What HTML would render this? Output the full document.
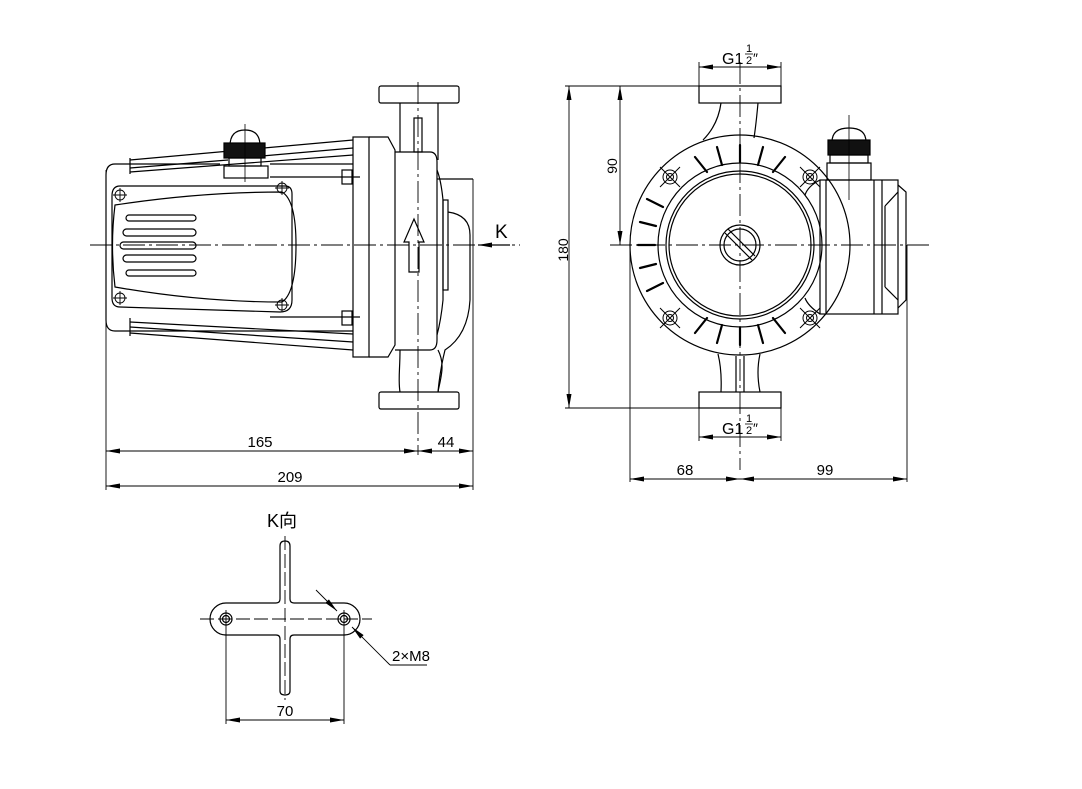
<!DOCTYPE html>
<html><head><meta charset="utf-8"><style>
html,body{margin:0;padding:0;background:#fff;}
svg{display:block;}
text{font-family:"Liberation Sans","Noto Sans CJK SC",sans-serif;fill:#000;}
</style></head><body>
<svg width="1082" height="789" viewBox="0 0 1082 789" xmlns="http://www.w3.org/2000/svg">
<defs>
<marker id="a" viewBox="0 0 14 5" refX="14" refY="2.5" markerWidth="14" markerHeight="5" orient="auto-start-reverse" markerUnits="userSpaceOnUse"><path d="M0,0 L14,2.5 L0,5 z" fill="#000"/></marker>
</defs>
<g fill="none" stroke="#000" stroke-width="1.2">
<!-- ===== LEFT VIEW ===== -->
<line x1="90" y1="245" x2="520" y2="245" stroke-dasharray="22,4,3,4" stroke-width="0.9"/>
<line x1="418" y1="82" x2="418" y2="455" stroke-dasharray="22,4,3,4" stroke-width="0.9"/>
<rect x="379" y="86" width="80" height="17" rx="2"/>
<rect x="379" y="392" width="80" height="17" rx="2"/>
<line x1="400" y1="103" x2="400" y2="152"/><line x1="438" y1="103" x2="438" y2="160"/>
<rect x="414" y="118" width="8" height="34"/>
<path d="M400,350 C400,370 398,380 400,392 M438,350 C446,365 440,380 438,392"/>
<rect x="353" y="137" width="16" height="220"/>
<path d="M369,137 H388 L395,150 V345 L388,357 H369"/>
<path d="M395,152 H430 Q437,152 437,162 V340 Q437,350 430,350 H395"/>
<path d="M437,170 Q441,180 443,200 V300 Q441,320 437,335"/>
<rect x="443" y="200" width="5" height="90"/>
<line x1="437" y1="179" x2="473" y2="179"/>
<line x1="473" y1="179" x2="473" y2="490" stroke-width="0.9"/>
<path d="M448,212 Q470,215 470,235 V300 Q468,335 445,350 Q440,370 438,392"/>
<path d="M409,272 V242 H404 L414,219 L424,242 H419 V272 Z"/>
<path d="M115,164 H220 M270,164 H353 M353,331 H115 Q106,331 106,320 V175 Q106,164 115,164" />
<line x1="106" y1="170" x2="106" y2="490" stroke-width="0.9"/>
<path d="M130,160 L353,140 M130,168 L228,160 M262,156 L353,148 M130,172 L353,155 M130,322 L353,334 M130,327 L353,342 M130,333 L353,350"/>
<path d="M130,158 V174 M130,318 V336"/>
<path d="M230,146 Q230,130 245,130 Q260,130 260,146"/>
<rect x="224" y="143" width="41" height="15" fill="#111"/>
<rect x="229" y="158" width="32" height="8"/>
<rect x="224" y="166" width="44" height="12"/>
<line x1="245" y1="124" x2="245" y2="182" stroke-width="0.8"/>
<path d="M120,186 H285 Q292,186 292,194 V300 Q292,312 280,312 L120,307 Q112,307 112,298 V196 Q112,186 120,186 Z"/>
<path d="M115,205 Q200,192 282,192 Q296,200 296,245 Q296,293 282,302 Q200,302 115,287 Q110,245 115,205 Z"/>
<rect x="126" y="215" width="70" height="6" rx="3"/>
<rect x="123" y="229" width="73" height="7" rx="3.5"/>
<rect x="120" y="242" width="76" height="7" rx="3.5"/>
<rect x="123" y="255" width="73" height="7" rx="3.5"/>
<rect x="126" y="270" width="70" height="6" rx="3"/>
<g stroke-width="0.9">
<circle cx="120" cy="195" r="5"/><circle cx="282" cy="188" r="5"/><circle cx="120" cy="298" r="5"/><circle cx="282" cy="305" r="5"/>
<path d="M113,195 h14 M120,188 v14 M275,188 h14 M282,181 v14 M113,298 h14 M120,291 v14 M275,305 h14 M282,298 v14"/>
</g>
<rect x="342" y="170" width="10" height="14"/><rect x="342" y="311" width="10" height="14"/>
<path d="M270,177 H360 M270,317 H360"/>
<line x1="478" y1="245" x2="510" y2="245" marker-start="url(#a)"/>
</g>
<text x="495" y="238" font-size="19">K</text>
<g fill="none" stroke="#000" stroke-width="0.9">
<line x1="106" y1="451" x2="418" y2="451" marker-start="url(#a)" marker-end="url(#a)"/>
<line x1="418" y1="451" x2="473" y2="451" marker-start="url(#a)" marker-end="url(#a)"/>
<line x1="106" y1="486" x2="473" y2="486" marker-start="url(#a)" marker-end="url(#a)"/>
</g>
<text x="260" y="447" font-size="15" text-anchor="middle">165</text>
<text x="446" y="447" font-size="15" text-anchor="middle">44</text>
<text x="290" y="482" font-size="15" text-anchor="middle">209</text>

<!-- ===== RIGHT VIEW ===== -->
<g fill="none" stroke="#000" stroke-width="1.2">
<line x1="610" y1="245" x2="930" y2="245" stroke-dasharray="22,4,3,4" stroke-width="0.9"/>
<line x1="740" y1="62" x2="740" y2="470" stroke-dasharray="22,4,3,4" stroke-width="0.9"/>
<rect x="699" y="86" width="82" height="17"/>
<rect x="699" y="392" width="82" height="16"/>
<path d="M721,103 Q718,125 703,140 M758,103 Q756,125 754,138"/>
<path d="M718,354 Q722,370 721,392 M760,354 Q756,372 760,392 M736,356 V392 M744,356 V392"/>
<circle cx="740" cy="245" r="110"/>
<circle cx="740" cy="245" r="82"/>
<circle cx="740" cy="245" r="74"/>
<circle cx="740" cy="245" r="71"/>
<circle cx="740" cy="245" r="20"/>
<circle cx="740" cy="245" r="16"/>
<path d="M728,229 L755,256 M725,233 L752,260"/>
<rect x="820" y="180" width="78" height="134"/>
<line x1="826" y1="180" x2="826" y2="314"/>
<line x1="874" y1="180" x2="874" y2="314"/><line x1="882" y1="180" x2="882" y2="314"/>
<path d="M898,185 L906,192 V300 L898,308 M885,206 L898,192 M885,287 L898,300 M885,206 V287"/>
<path d="M820,180 Q808,186 805,195 M820,314 Q808,306 805,298"/>
<path d="M832,142 Q832,128 849,128 Q866,128 866,142"/>
<rect x="828" y="140" width="42" height="15" fill="#111"/>
<rect x="830" y="155" width="38" height="8"/>
<rect x="827" y="163" width="44" height="17"/>
<line x1="849" y1="115" x2="849" y2="200" stroke-width="0.8"/>
<g stroke-width="1">
<circle cx="670" cy="177" r="7"/><circle cx="670" cy="177" r="3.5"/>
<circle cx="810" cy="177" r="7"/><circle cx="810" cy="177" r="3.5"/>
<circle cx="670" cy="318" r="7"/><circle cx="670" cy="318" r="3.5"/>
<circle cx="810" cy="318" r="7"/><circle cx="810" cy="318" r="3.5"/>
<path d="M660,167 l20,20 M680,167 l-20,20 M800,167 l20,20 M820,167 l-20,20 M660,308 l20,20 M680,308 l-20,20 M800,308 l20,20 M820,308 l-20,20"/>
</g>
<g stroke-width="2.2" stroke-linecap="round">
<path d="M740,145 V162 M717,147 L722,165 M763,147 L758,165 M695,157 L707,172 M785,157 L773,172 M740,345 V328 M717,343 L722,325 M763,343 L758,325 M695,333 L707,318 M785,333 L773,318 M638,245 H655 M640,222 L656,226 M640,268 L656,264 M647,199 L663,207 M647,291 L663,283"/>
</g>
</g>
<g fill="none" stroke="#000" stroke-width="0.9">
<line x1="565" y1="86" x2="699" y2="86"/>
<line x1="565" y1="408" x2="699" y2="408"/>
<line x1="569" y1="86" x2="569" y2="408" marker-start="url(#a)" marker-end="url(#a)"/>
<line x1="620" y1="86" x2="620" y2="245" marker-start="url(#a)" marker-end="url(#a)"/>
<line x1="699" y1="62" x2="699" y2="86"/><line x1="781" y1="62" x2="781" y2="86"/>
<line x1="699" y1="67" x2="781" y2="67" marker-start="url(#a)" marker-end="url(#a)"/>
<line x1="699" y1="408" x2="699" y2="441"/><line x1="781" y1="408" x2="781" y2="441"/>
<line x1="699" y1="437" x2="781" y2="437" marker-start="url(#a)" marker-end="url(#a)"/>
<line x1="630" y1="245" x2="630" y2="482"/><line x1="907" y1="245" x2="907" y2="482"/>
<line x1="630" y1="479" x2="740" y2="479" marker-start="url(#a)" marker-end="url(#a)"/>
<line x1="740" y1="479" x2="907" y2="479" marker-start="url(#a)" marker-end="url(#a)"/>
</g>
<text transform="translate(568,250) rotate(-90)" font-size="14" text-anchor="middle">180</text>
<text transform="translate(617,166) rotate(-90)" font-size="14" text-anchor="middle">90</text>
<text x="722" y="64" font-size="16">G1</text>
<text x="746" y="52" font-size="11">1</text><line x1="745" y1="54" x2="753" y2="54" stroke="#000" stroke-width="0.8"/><text x="746" y="64" font-size="11">2</text><text x="753" y="63" font-size="14">″</text>
<text x="722" y="434" font-size="16">G1</text>
<text x="746" y="422" font-size="11">1</text><line x1="745" y1="424" x2="753" y2="424" stroke="#000" stroke-width="0.8"/><text x="746" y="434" font-size="11">2</text><text x="753" y="433" font-size="14">″</text>
<text x="685" y="475" font-size="15" text-anchor="middle">68</text>
<text x="825" y="475" font-size="15" text-anchor="middle">99</text>

<!-- ===== K VIEW ===== -->
<text x="282" y="527" font-size="18" text-anchor="middle">K向</text>
<g fill="none" stroke="#000" stroke-width="1.2">
<path d="M280,546 Q280,541 285,541 Q290,541 290,546 V599 Q290,603 294,603 H344 A16,16 0 0 1 344,635 H294 Q290,635 290,639 V691 Q290,695 285,695 Q280,695 280,691 V639 Q280,635 276,635 H226 A16,16 0 0 1 226,603 H276 Q280,603 280,599 Z"/>
<circle cx="226" cy="619" r="6"/><circle cx="226" cy="619" r="3.5"/>
<circle cx="344" cy="619" r="6"/><circle cx="344" cy="619" r="3.5"/>
<line x1="200" y1="619" x2="372" y2="619" stroke-dasharray="14,4" stroke-width="0.9"/>
<line x1="285" y1="536" x2="285" y2="700" stroke-dasharray="14,4" stroke-width="0.9"/>
<line x1="316" y1="590" x2="337" y2="611" stroke-width="0.9" marker-end="url(#a)"/>
<line x1="390" y1="665" x2="352" y2="627" stroke-width="0.9" marker-end="url(#a)"/>
<line x1="390" y1="665" x2="427" y2="665" stroke-width="0.9"/>
<line x1="226" y1="610" x2="226" y2="724" stroke-width="0.9"/>
<line x1="344" y1="610" x2="344" y2="724" stroke-width="0.9"/>
<line x1="226" y1="720" x2="344" y2="720" stroke-width="0.9" marker-start="url(#a)" marker-end="url(#a)"/>
</g>
<text x="392" y="661" font-size="15">2×M8</text>
<text x="285" y="716" font-size="15" text-anchor="middle">70</text>
</svg>
</body></html>
